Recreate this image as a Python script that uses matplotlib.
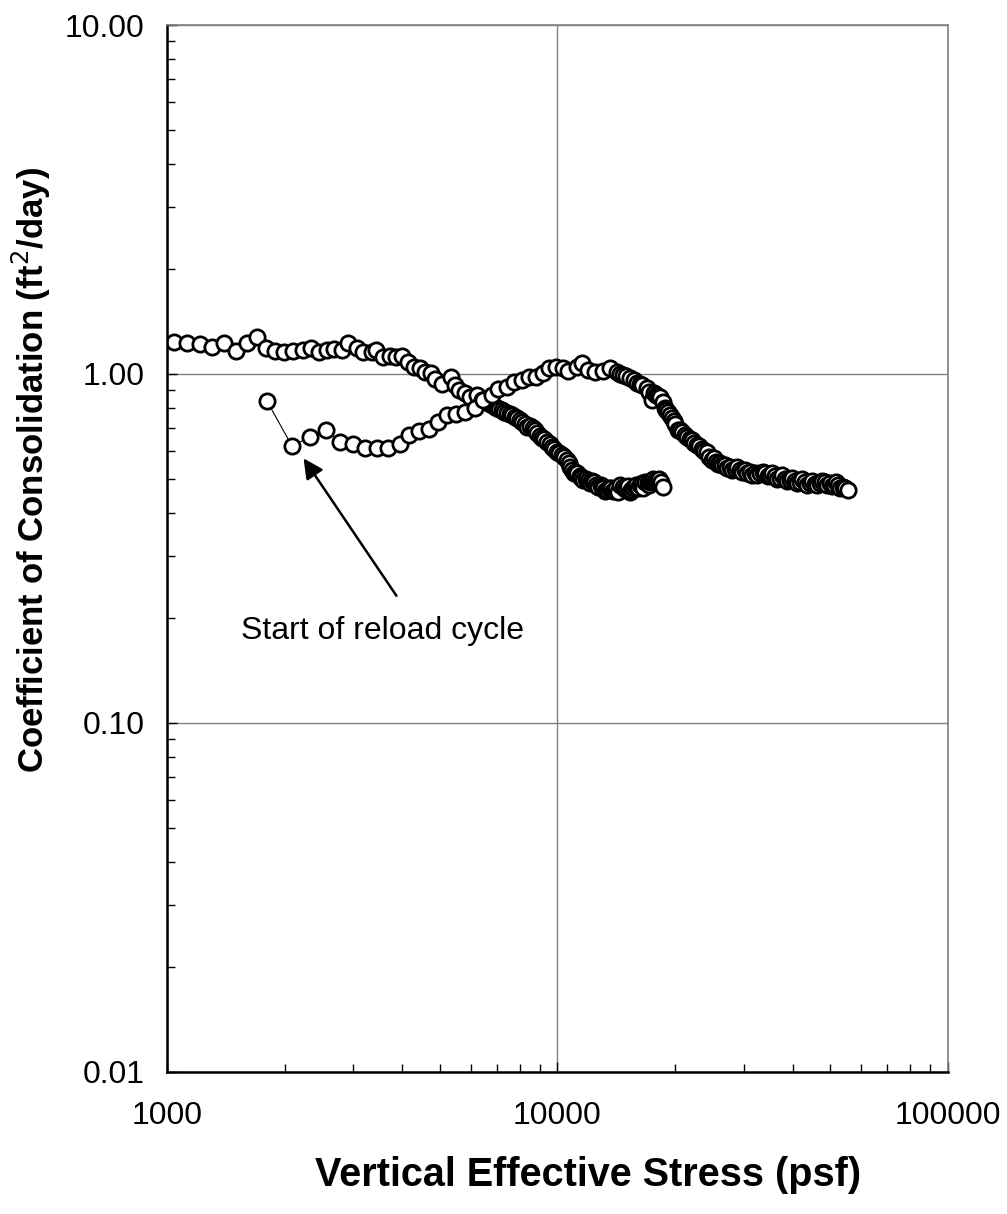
import numpy as np
import matplotlib
matplotlib.use('Agg')
import matplotlib.pyplot as plt
from matplotlib.ticker import FixedLocator, LogLocator, NullFormatter

plt.rcParams['font.family'] = ['Liberation Sans', 'DejaVu Sans']

# Loading curve (stress in psf, cv in ft2/day)
load_stress = [1042, 1125, 1215, 1304, 1400, 1502, 1603, 1700, 1793, 1890,
               1994, 2102, 2230, 2338, 2451, 2569, 2677, 2806, 2908, 3066,
               3176, 3350, 3429, 3573, 3725, 3859, 3998, 4141, 4291, 4445,
               4578, 4743, 4857, 5062, 5337, 5464, 5595, 5796, 5970, 6222,
               6409, 6500, 6637, 6800, 6917, 7000, 7100, 7209, 7300, 7427,
               7550, 7650, 7800, 7877, 8000, 8112, 8250, 8353, 8500, 8657,
               8750, 8864, 9000, 9128, 9250, 9400, 9550, 9681, 9800, 9970,
               10100, 10268, 10400, 10576, 10700, 10765, 10900, 11000, 11100, 11216,
               11400, 11500, 11623, 11800, 11950, 12114, 12250, 12400, 12550, 12699,
               12900, 13000, 13100, 13250, 13390, 13550, 13700, 13850, 14036, 14150,
               14300, 14500, 14715, 14850, 15000, 15150, 15300, 15450, 15612, 15750,
               15900, 16050, 16271, 16450, 16600, 16800, 17054, 17200, 17300, 17450,
               17600, 17800, 17987, 18200, 18400, 18636]
load_cv = [1.235, 1.227, 1.219, 1.195, 1.227, 1.164, 1.227, 1.276, 1.187, 1.164,
           1.156, 1.164, 1.172, 1.187, 1.156, 1.172, 1.179, 1.172, 1.227, 1.187,
           1.156, 1.156, 1.170, 1.119, 1.126, 1.119, 1.126, 1.082, 1.047, 1.040,
           1.013, 1.007, 0.968, 0.936, 0.980, 0.930, 0.900, 0.882, 0.859, 0.870,
           0.842, 0.835, 0.826, 0.815, 0.804, 0.800, 0.795, 0.788, 0.780, 0.773,
           0.770, 0.763, 0.755, 0.748, 0.740, 0.729, 0.720, 0.705, 0.710, 0.700,
           0.690, 0.678, 0.665, 0.656, 0.650, 0.638, 0.630, 0.618, 0.610, 0.598,
           0.595, 0.586, 0.580, 0.567, 0.555, 0.541, 0.530, 0.520, 0.525, 0.520,
           0.510, 0.505, 0.497, 0.500, 0.492, 0.487, 0.495, 0.490, 0.480, 0.474,
           0.480, 0.475, 0.470, 0.462, 0.465, 0.472, 0.470, 0.462, 0.465, 0.470,
           0.460, 0.480, 0.474, 0.468, 0.470, 0.478, 0.460, 0.466, 0.471, 0.478,
           0.480, 0.470, 0.481, 0.486, 0.470, 0.490, 0.490, 0.482, 0.490, 0.495,
           0.500, 0.492, 0.497, 0.500, 0.490, 0.474]

# Reload curve
reload_stress = [1803, 2090, 2324, 2554, 2773, 2995, 3214, 3450, 3681, 3952,
                 4167, 4419, 4688, 4943, 5212, 5497, 5796, 6150, 6447, 6797,
                 7040, 7427, 7737, 8112, 8453, 8810, 9182, 9511, 9913, 10330,
                 10639, 11216, 11553, 11970, 12474, 13076, 13627, 14201, 14500, 14715,
                 15000, 15343, 15700, 15990, 16250, 16500, 16953, 17200, 17458, 17700,
                 17900, 18100, 18302, 18600, 18849, 19000, 19200, 19400, 19643, 19850,
                 20000, 20351, 20600, 20900, 21150, 21462, 21800, 22100, 22400, 22763,
                 23100, 23400, 23750, 24142, 24500, 24863, 25100, 25400, 25750, 26071,
                 26400, 26800, 27200, 27655, 28050, 28500, 28900, 29330, 29750, 30200,
                 30650, 31110, 31550, 32000, 32500, 33000, 33500, 34000, 34500, 35010,
                 35500, 36000, 36550, 37130, 37650, 38200, 38800, 39390, 39950, 40500,
                 41100, 41780, 42400, 43000, 43650, 44320, 44950, 45600, 46300, 47010,
                 47700, 48400, 49100, 49860, 50400, 51000, 51650, 52280, 53000, 53800,
                 54600, 55450]
reload_cv = [0.837, 0.622, 0.660, 0.691, 0.639, 0.631, 0.614, 0.614, 0.614, 0.631,
             0.668, 0.687, 0.696, 0.729, 0.763, 0.768, 0.778, 0.799, 0.842, 0.871,
             0.906, 0.918, 0.948, 0.961, 0.980, 0.980, 1.007, 1.040, 1.047, 1.040,
             1.020, 1.047, 1.075, 1.027, 1.013, 1.020, 1.040, 1.013, 1.000, 0.993,
             0.985, 0.974, 0.960, 0.942, 0.935, 0.930, 0.912, 0.890, 0.842, 0.880,
             0.870, 0.865, 0.859, 0.830, 0.799, 0.790, 0.780, 0.765, 0.748, 0.735,
             0.720, 0.691, 0.690, 0.680, 0.670, 0.660, 0.650, 0.645, 0.635, 0.626,
             0.620, 0.610, 0.600, 0.598, 0.580, 0.567, 0.575, 0.560, 0.552, 0.556,
             0.548, 0.550, 0.538, 0.541, 0.532, 0.535, 0.540, 0.531, 0.525, 0.530,
             0.522, 0.524, 0.515, 0.520, 0.512, 0.520, 0.525, 0.520, 0.510, 0.514,
             0.522, 0.510, 0.500, 0.504, 0.512, 0.500, 0.495, 0.497, 0.505, 0.495,
             0.488, 0.490, 0.500, 0.490, 0.482, 0.487, 0.495, 0.485, 0.480, 0.487,
             0.495, 0.490, 0.480, 0.487, 0.478, 0.480, 0.490, 0.481, 0.470, 0.475,
             0.470, 0.465]

x_ticks = [1000, 10000, 100000]
x_tick_labels = ['1000', '10000', '100000']
y_ticks = [0.01, 0.1, 1, 10]
y_tick_labels = ['0.01', '0.10', '1.00', '10.00']

fig = plt.figure(figsize=(10.07, 12.14), dpi=100)
ax = fig.add_axes([0.1658, 0.117, 0.9414 - 0.1658, 0.9794 - 0.117])

ax.set_xscale('log')
ax.set_yscale('log')
ax.set_xlim(1000, 100000)
ax.set_ylim(0.01, 10)

ax.grid(True, which='major', color='#808080', lw=1)
ax.set_axisbelow(True)

mk = dict(marker='o', ms=11, mfc='white', mec='black', mew=2.0, color='black', lw=0.8)
ax.plot(load_stress, load_cv, **mk)
ax.plot(reload_stress, reload_cv, **mk)

ax.xaxis.set_major_locator(FixedLocator(x_ticks))
ax.set_xticklabels(x_tick_labels)
ax.yaxis.set_major_locator(FixedLocator(y_ticks))
ax.set_yticklabels(y_tick_labels)
ax.xaxis.set_minor_locator(LogLocator(base=10, subs=np.arange(2, 10)))
ax.yaxis.set_minor_locator(LogLocator(base=10, subs=np.arange(2, 10)))
ax.xaxis.set_minor_formatter(NullFormatter())
ax.yaxis.set_minor_formatter(NullFormatter())

ax.tick_params(which='both', direction='in', colors='black', labelsize=23)
ax.tick_params(which='major', length=7, width=1)
ax.tick_params(which='minor', length=6, width=1)
ax.tick_params(axis='x', which='major', pad=21)
ax.tick_params(axis='y', which='major', pad=16)

for s in ['left', 'bottom']:
    ax.spines[s].set_color('black')
    ax.spines[s].set_linewidth(1.8)
for s in ['top', 'right']:
    ax.spines[s].set_color('#808080')
    ax.spines[s].set_linewidth(1.2)

ax.set_xlabel('Vertical Effective Stress (psf)', fontsize=28.5, fontweight='bold')
ax.set_ylabel('Coefficient of Consolidation (ft$^2$/day)', fontsize=25, fontweight='bold')
ax.xaxis.set_label_coords(0.539, -0.080)
ax.yaxis.set_label_coords(-0.146, 0.575)

ax.annotate('', xy=(2217, 0.582), xytext=(3905, 0.228),
            arrowprops=dict(arrowstyle='-|>', color='black', lw=1.8, mutation_scale=30))
ax.text(3573, 0.1835, 'Start of reload cycle', fontsize=23, ha='center', va='center')

fig.savefig('out.png', dpi=100)
